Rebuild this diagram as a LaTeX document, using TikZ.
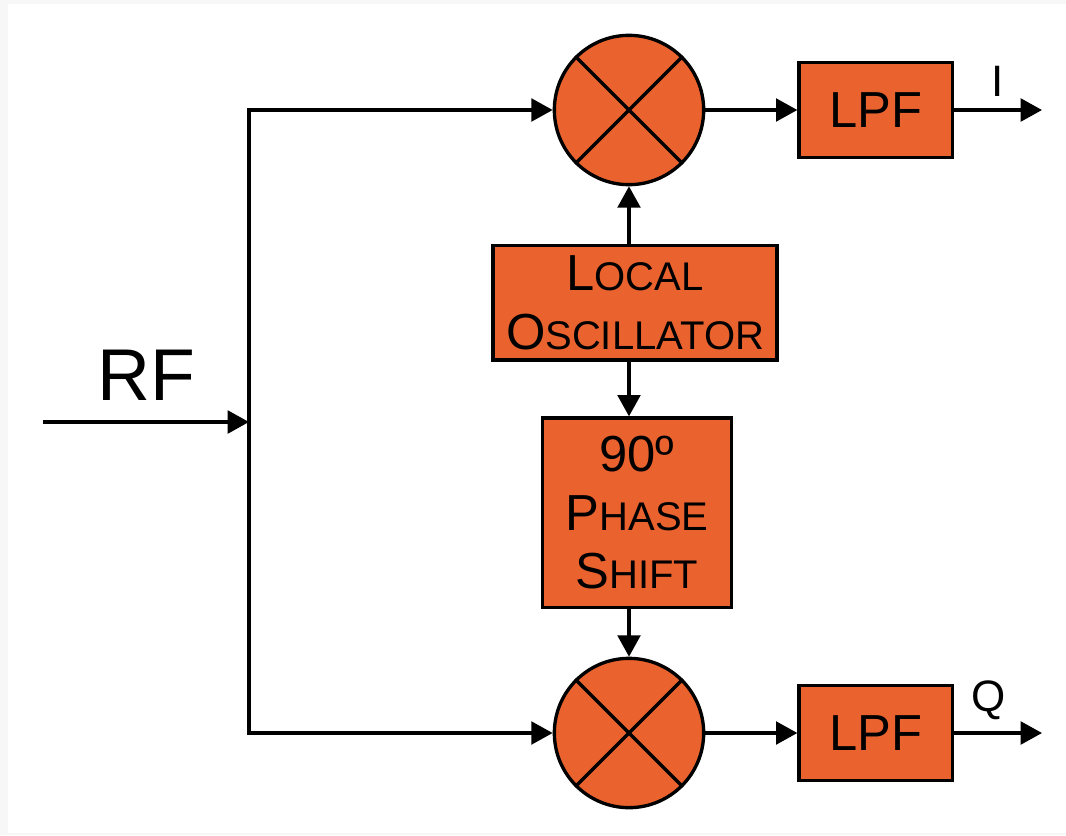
\documentclass[tikz,border=0pt]{standalone}
\usepackage{fontspec}
\setmainfont{Liberation Sans}
\usepackage{xcolor}
\usetikzlibrary{positioning,arrows.meta}
\definecolor{boxorange}{RGB}{234,98,46}
\newcommand{\capsz}{\fontsize{38}{44}\selectfont}
\newcommand{\lowsz}{\fontsize{30}{44}\selectfont}
\newcommand{\fakesc}[2]{{\capsz#1}{\lowsz#2}}

\begin{document}
\begin{tikzpicture}[
      x=0.75pt,y=-0.75pt,
      line width=2.5pt,
      box/.style={draw,fill=boxorange,align=center,inner sep=0pt,font=\capsz},
      lpf/.style={box,minimum width=115pt,minimum height=71pt},
      mixer/.style={draw,circle,fill=boxorange,minimum size=112pt,inner sep=0pt},
      arrow/.style={-{Triangle[length=16pt,width=17pt]}}]
    \useasboundingbox (0,0) rectangle (1066,835);
    \fill[black!3] (0,0) rectangle (1066,835);
    \fill[white] (8,4) rectangle (1066,833);
    \node[mixer] (mixI) at (629,110) {};
    \node[mixer] (mixQ) at (629,733) {};
    \draw (mixI.north east) -- (mixI.south west) (mixI.north west) -- (mixI.south east);
    \draw (mixQ.north east) -- (mixQ.south west) (mixQ.north west) -- (mixQ.south east);
    \node[box,minimum width=213pt,minimum height=86pt,below=43pt of mixI,xshift=4.5pt] (lo)
      {\fakesc{L}{OCAL}\\\fakesc{O}{SCILLATOR}};
    \node[box,minimum width=142pt,minimum height=142pt,below=41pt of lo,xshift=1.5pt] (shift)
      {90º\\\fakesc{P}{HASE}\\\fakesc{S}{HIFT}};
    \node[lpf,right=69pt of mixI] (lpfI) {LPF};
    \node[lpf,right=69pt of mixQ] (lpfQ) {LPF};
    \coordinate (rfin) at (43,422);
    \coordinate (split) at (249,422);
    \coordinate (iout) at (1042,110);
    \coordinate (qout) at (1042,733);
    \draw[arrow] (rfin) -- node[midway,above=15pt,inner sep=0pt,font=\fontsize{55}{60}\selectfont] (rflabel) {RF} (split);
    \draw[arrow] (split) |- (mixI.west);
    \draw[arrow] (split) |- (mixQ.west);
    \draw[arrow] (lo.north -| mixI) -- (mixI.south);
    \draw[arrow] (lo.south -| mixI) -- (shift.north -| mixI);
    \draw[arrow] (shift.south -| mixI) -- (mixQ.north);
    \draw[arrow] (mixI) -- (lpfI);
    \draw[arrow] (mixQ) -- (lpfQ);
    \draw[arrow] (lpfI.east) -- node[midway,above=9pt,inner sep=0pt,font=\fontsize{33}{36}\selectfont] (ilabel) {I} (iout);
    \draw[arrow] (lpfQ.east) -- node[midway,above=9pt,xshift=-7pt,inner sep=0pt,font=\fontsize{33}{36}\selectfont] (qlabel) {Q} (qout);
  \end{tikzpicture}
\end{document}
